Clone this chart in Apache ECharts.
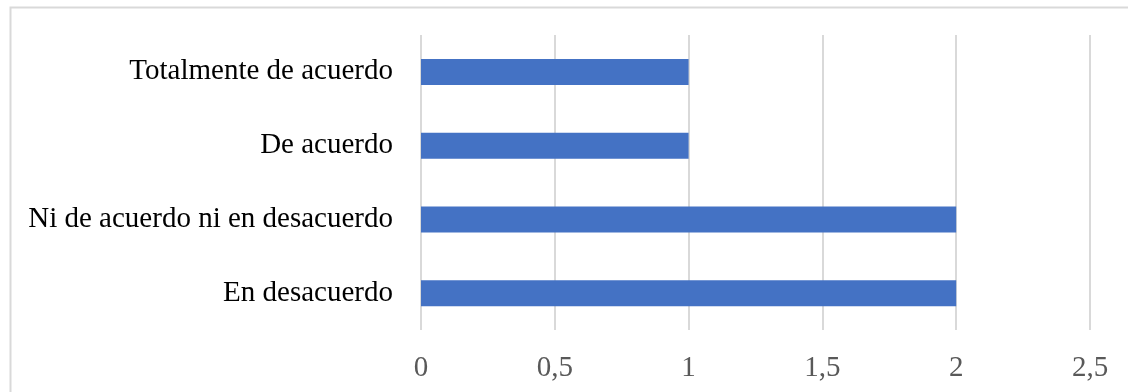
<!DOCTYPE html>
<html>
<head>
<meta charset="utf-8">
<style>
  html, body { margin: 0; padding: 0; background: #ffffff; }
  #chart { width: 1128px; height: 392px; }
</style>
<script src="https://cdn.jsdelivr.net/npm/echarts@6/dist/echarts.min.js"></script>
</head>
<body>
<div id="chart"></div>
<script>
// Response categories, listed top to bottom
const categories = [
  'Totalmente de acuerdo',
  'De acuerdo',
  'Ni de acuerdo ni en desacuerdo',
  'En desacuerdo'
];
// Number of responses per category
const counts = [1, 1, 2, 2];

const serif = '"Liberation Serif", "Times New Roman", serif';

const chart = echarts.init(document.getElementById('chart'), null, { renderer: 'canvas' });

chart.setOption({
  backgroundColor: '#ffffff',
  animation: false,
  graphic: [{
    type: 'rect',
    left: 8,
    top: 5,
    shape: { x: 0, y: 0, width: 1140, height: 400 },
    style: { fill: 'none', stroke: '#d9d9d9', lineWidth: 2 },
    silent: true,
    z: -1
  }],
  grid: { left: 421, right: 38, top: 35, bottom: 62, containLabel: false },
  xAxis: {
    type: 'value',
    min: 0,
    max: 2.5,
    interval: 0.5,
    axisLine: { show: false },
    axisTick: { show: false },
    splitLine: { show: true, lineStyle: { color: '#d9d9d9', width: 2 } },
    axisLabel: {
      color: '#595959',
      fontFamily: serif,
      fontSize: 29,
      margin: 24,
      formatter: v => String(v).replace('.', ',')
    }
  },
  yAxis: {
    type: 'category',
    data: categories,
    inverse: true,
    axisLine: { show: false },
    axisTick: { show: false },
    splitLine: { show: false },
    axisLabel: {
      color: '#000000',
      fontFamily: serif,
      fontSize: 29,
      margin: 28
    }
  },
  series: [{
    type: 'bar',
    data: counts,
    barWidth: 26,
    itemStyle: { color: '#4472c4' }
  }]
});
</script>
</body>
</html>
